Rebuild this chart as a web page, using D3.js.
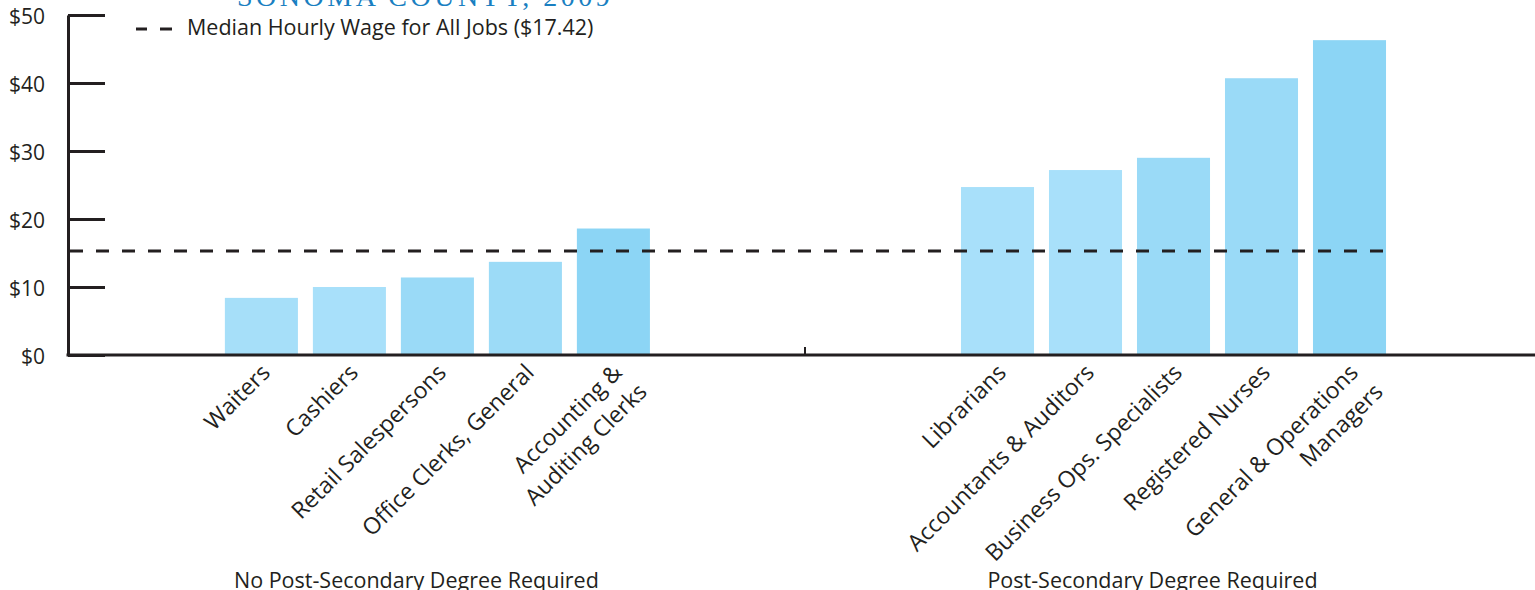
<!DOCTYPE html>
<html>
<head>
<meta charset="utf-8">
<script src="https://cdn.jsdelivr.net/npm/d3@7/dist/d3.min.js"></script>
<style>
  html, body { margin: 0; padding: 0; background: #fff; overflow: hidden; }
  svg { display: block; }
  text { font-family: "Open Sans", "Noto Sans", sans-serif; fill: #231f20; }
</style>
</head>
<body>
<svg id="chart" width="1535" height="590"></svg>
<script>
// ---- data ----
const groupNames = ["No Post-Secondary Degree Required", "Post-Secondary Degree Required"];
const categoriesNoDegree = ["Waiters", "Cashiers", "Retail Salespersons", "Office Clerks, General", "Accounting &\nAuditing Clerks"];
const wagesNoDegree = [8.4, 10.0, 11.4, 13.7, 18.6];
const categoriesDegree = ["Librarians", "Accountants & Auditors", "Business Ops. Specialists", "Registered Nurses", "General & Operations\nManagers"];
const wagesDegree = [24.7, 27.2, 29.0, 40.7, 46.3];
const yTicks = [0, 10, 20, 30, 40, 50];
const medianLineValue = 15.3;
const legendLabel = "Median Hourly Wage for All Jobs ($17.42)";
const titleText = "SONOMA COUNTY, 2009";

// ---- layout ----
const svg = d3.select("#chart");
const W = 1535, H = 590;
const axisX = 68;
const y = d3.scaleLinear().domain([0, 50]).range([355, 15]);

const step = 88;
const groupCenters = [437.4, 1173.5];
const xLeft = d3.scaleBand().domain(categoriesNoDegree)
  .range([groupCenters[0] - 2.5 * step, groupCenters[0] + 2.5 * step])
  .paddingInner(0.17).paddingOuter(0.085);
const xRight = d3.scaleBand().domain(categoriesDegree)
  .range([groupCenters[1] - 2.5 * step, groupCenters[1] + 2.5 * step])
  .paddingInner(0.17).paddingOuter(0.085);

const colorsNoDegree = ["#a6dff9", "#a8e0fa", "#9adaf7", "#9cdbf7", "#8cd5f5"];
const colorsDegree = ["#a8e0fa", "#a8e0fa", "#9adaf7", "#9adaf7", "#8cd5f5"];

// title (cut off at top, as in the source)
svg.append("text")
  .attr("x", 237).attr("y", 6)
  .style("font-family", "'Liberation Serif', 'DejaVu Serif', serif")
  .style("font-size", "28px")
  .style("letter-spacing", "3.5px")
  .style("fill", "#1a7fc1")
  .text(titleText);

// bars
function drawGroup(cats, vals, xs, colors) {
  svg.append("g").selectAll("rect")
    .data(cats.map((c, i) => ({ c, v: vals[i], col: colors[i] })))
    .join("rect")
    .attr("x", d => xs(d.c))
    .attr("width", xs.bandwidth())
    .attr("y", d => y(d.v))
    .attr("height", d => y(0) - y(d.v))
    .attr("fill", d => d.col);
}
drawGroup(categoriesNoDegree, wagesNoDegree, xLeft, colorsNoDegree);
drawGroup(categoriesDegree, wagesDegree, xRight, colorsDegree);

// y axis
const yAxis = d3.axisLeft(y).tickValues(yTicks)
  .tickSizeInner(-37).tickSizeOuter(0).tickPadding(23)
  .tickFormat(d => "$" + d);
const gy = svg.append("g").attr("transform", `translate(${axisX},0)`).call(yAxis);
gy.select(".domain").attr("stroke", "#231f20").attr("stroke-width", 3);
gy.selectAll(".tick line").attr("stroke", "#231f20").attr("stroke-width", 3);
gy.selectAll(".tick text")
  .style("font-size", "21px").style("font-family", "'Open Sans', sans-serif")
  .attr("fill", "#231f20").attr("dy", "0.42em");

// median dashed line
svg.append("line")
  .attr("x1", axisX + 2).attr("x2", 1390)
  .attr("y1", y(medianLineValue)).attr("y2", y(medianLineValue))
  .attr("stroke", "#231f20").attr("stroke-width", 3)
  .attr("stroke-dasharray", "13,13");

// x baseline
svg.append("line")
  .attr("x1", axisX - 1.5).attr("x2", W)
  .attr("y1", y(0)).attr("y2", y(0))
  .attr("stroke", "#231f20").attr("stroke-width", 3);

// group separator tick
const sepX = 805;
svg.append("line")
  .attr("x1", sepX).attr("x2", sepX)
  .attr("y1", y(0) - 8).attr("y2", y(0))
  .attr("stroke", "#231f20").attr("stroke-width", 2);

// category labels (rotated)
function drawLabels(cats, xs) {
  const g = svg.append("g");
  cats.forEach(c => {
    const cx = xs(c) + xs.bandwidth() / 2;
    const t = g.append("text")
      .attr("transform", `translate(${cx + 10},374) rotate(-45)`)
      .attr("text-anchor", "end")
      .style("font-size", "23px");
    c.split("\n").forEach((line, i) => {
      t.append("tspan").attr("x", 0).attr("dx", i === 0 ? 0 : 4)
        .attr("dy", i === 0 ? 0 : "1.35em").text(line);
    });
  });
}
drawLabels(categoriesNoDegree, xLeft);
drawLabels(categoriesDegree, xRight);

// group labels
groupNames.forEach((name, i) => {
  svg.append("text")
    .attr("x", groupCenters[i] - 21).attr("y", 588)
    .attr("text-anchor", "middle")
    .style("font-size", "21.5px")
    .text(name);
});

// legend
const legY = 29;
[[136, 147], [160, 172]].forEach(([a, b]) => {
  svg.append("line").attr("x1", a).attr("x2", b).attr("y1", legY).attr("y2", legY)
    .attr("stroke", "#231f20").attr("stroke-width", 3);
});
svg.append("text").attr("x", 187).attr("y", 35)
  .style("font-size", "21.5px")
  .text(legendLabel);
</script>
</body>
</html>
